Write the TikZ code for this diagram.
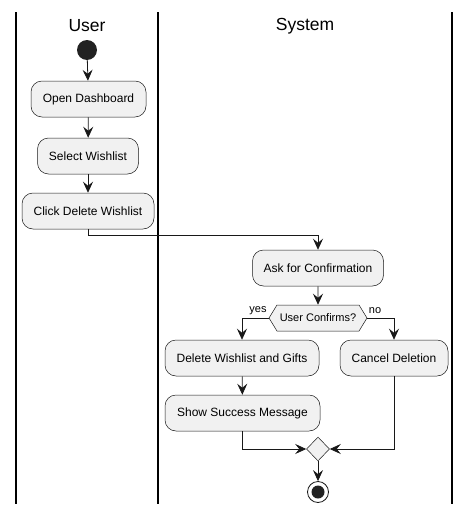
\documentclass[tikz,border=0pt]{standalone}
\usepackage{fontspec}
\setmainfont{Liberation Sans}
\usetikzlibrary{arrows.meta,shapes.geometric,shapes.misc,shapes.symbols}
\definecolor{boxfill}{HTML}{F1F1F1}
\definecolor{boxline}{HTML}{181818}
\definecolor{startfill}{HTML}{222222}
\tikzset{
  act/.style={draw=boxline, fill=boxfill, rounded corners=11pt, minimum height=36pt, inner xsep=9pt, font=\fontsize{12}{14}\selectfont, line width=0.5pt},
  flow/.style={draw=boxline, line width=0.8pt, -{Stealth[length=11pt,width=10pt,inset=4pt]}},
  lane/.style={draw=black, line width=1.2pt},
  title/.style={font=\fontsize{17.5}{20}\selectfont},
  lbl/.style={font=\fontsize{11}{13}\selectfont},
}
\begin{document}
\begin{tikzpicture}[x=1pt,y=-1pt]
\useasboundingbox (0,0) rectangle (470,514);
% lanes
\draw[lane] (16,12) -- (16,504);
\draw[lane] (158,12) -- (158,504);
\draw[lane] (452,12) -- (452,504);
\node[title] (tuser) at (87,26) {User};
\node[title] (tsys) at (305,26) {System};
% start
\node[circle, fill=startfill, minimum size=20pt, inner sep=0pt] (start) at (87,50) {};
\node[act, minimum width=115pt] (open) at (88.5,99) {Open Dashboard};
\node[act, minimum width=101pt] (select) at (88,156) {Select Wishlist};
\node[act, minimum width=132pt] (click) at (88,211) {Click Delete Wishlist};
\node[act, minimum width=131pt] (ask) at (318,268) {Ask for Confirmation};
\node[signal, signal to=west and east, signal pointer angle=117, draw=boxline, fill=boxfill, line width=0.5pt, minimum width=98pt, minimum height=26pt, inner xsep=0pt, inner ysep=0pt, font=\fontsize{11}{13}\selectfont] (dec) at (318,318) {User Confirms?};
\node[act, minimum width=154pt] (del) at (242,358) {Delete Wishlist and Gifts};
\node[act, minimum width=108pt] (cancel) at (394,358) {Cancel Deletion};
\node[act, minimum width=155pt] (show) at (242.5,413) {Show Success Message};
\node[diamond, draw=boxline, fill=boxfill, line width=0.5pt, minimum width=23pt, minimum height=24pt, inner sep=0pt] (merge) at (318,449) {};
\node[circle, draw=boxline, line width=0.8pt, fill=white, minimum size=21pt, inner sep=0pt] (endo) at (318,492) {};
\node[circle, fill=startfill, minimum size=13pt, inner sep=0pt] (endi) at (318,492) {};
% connectors
\draw[flow] (start) -- (open);
\draw[flow] (open) -- (select);
\draw[flow] (select) -- (click);
\draw[flow] (click.south) |- (318,235) -- (ask.north);
\draw[flow] (ask) -- (dec);
\draw[flow] (dec.west) -| (del.north);
\draw[flow] (dec.east) -| (cancel.north);
\node[lbl] (yes) at (258,311) {yes};
\node[lbl] (no) at (375,311) {no};
\draw[flow] (del) -- (show);
\draw[flow] (show.south) |- (merge.west);
\draw[flow] (cancel.south) |- (merge.east);
\draw[flow] (merge) -- (endo);
\end{tikzpicture}
\end{document}
